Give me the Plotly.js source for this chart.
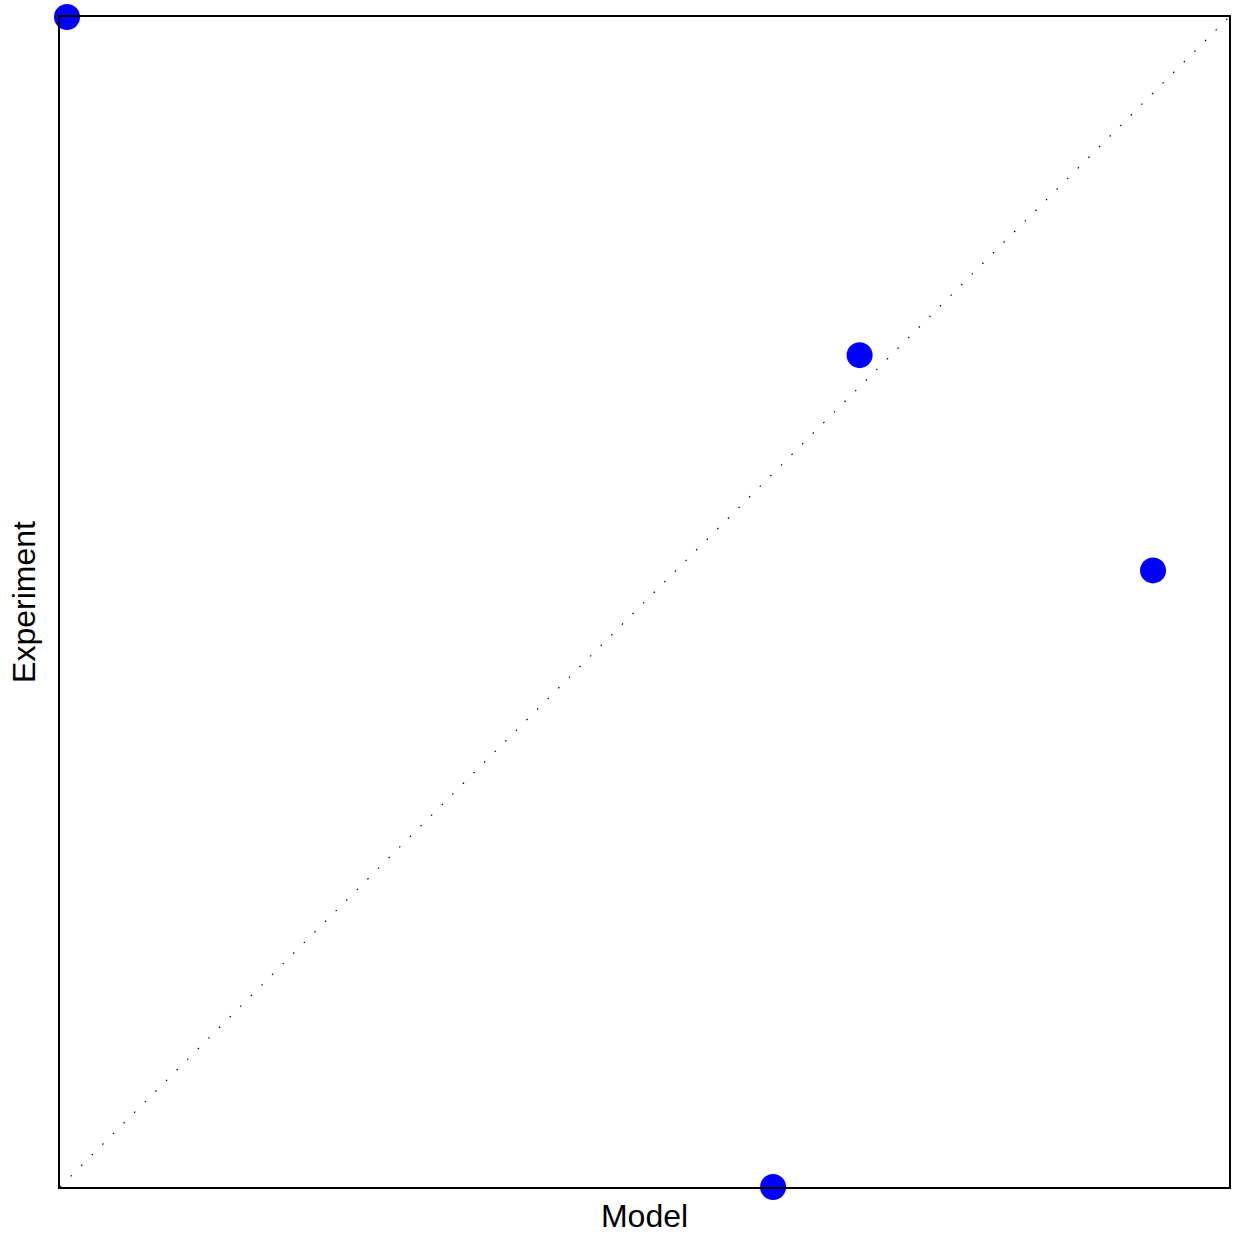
<!DOCTYPE html>
<html>
<head>
<meta charset="utf-8">
<script src="https://cdn.plot.ly/plotly-3.0.1.min.js"></script>
<style>html,body{margin:0;padding:0;background:#fff;}#chart{width:1238px;height:1239px;}</style>
</head>
<body>
<div id="chart"></div>
<script>
const modelValues = [0.006, 0.684, 0.935, 0.61];
const experimentValues = [1.0, 0.711, 0.527, 0.0];
const diagonalX = [0, 1];
const diagonalY = [0, 1];

const traces = [
  {
    x: diagonalX, y: diagonalY, mode: 'lines', type: 'scatter',
    line: {color: '#000', width: 1.2, dash: '1.5px,13.5px'},
    hoverinfo: 'skip', showlegend: false
  },
  {
    x: modelValues, y: experimentValues, mode: 'markers', type: 'scatter',
    marker: {color: '#0000ff', size: 26},
    cliponaxis: false, showlegend: false
  }
];

const layout = {
  width: 1238, height: 1239,
  margin: {l: 60, r: 9, t: 17, b: 52},
  paper_bgcolor: '#fff', plot_bgcolor: '#fff',
  font: {family: 'Liberation Sans, Arial, sans-serif', color: '#000'},
  xaxis: {
    range: [0, 1], showgrid: false, zeroline: false, showticklabels: false, ticks: '',
    showline: true, linecolor: '#000', linewidth: 1.6, mirror: true,
    title: {text: 'Model', font: {size: 32, color: '#000'}, standoff: 17},
    automargin: false
  },
  yaxis: {
    range: [0, 1], showgrid: false, zeroline: false, showticklabels: false, ticks: '',
    showline: true, linecolor: '#000', linewidth: 1.6, mirror: true,
    title: {text: 'Experiment', font: {size: 32, color: '#000'}, standoff: 13},
    automargin: false
  }
};

Plotly.newPlot('chart', traces, layout, {displayModeBar: false, staticPlot: true});
</script>
</body>
</html>
